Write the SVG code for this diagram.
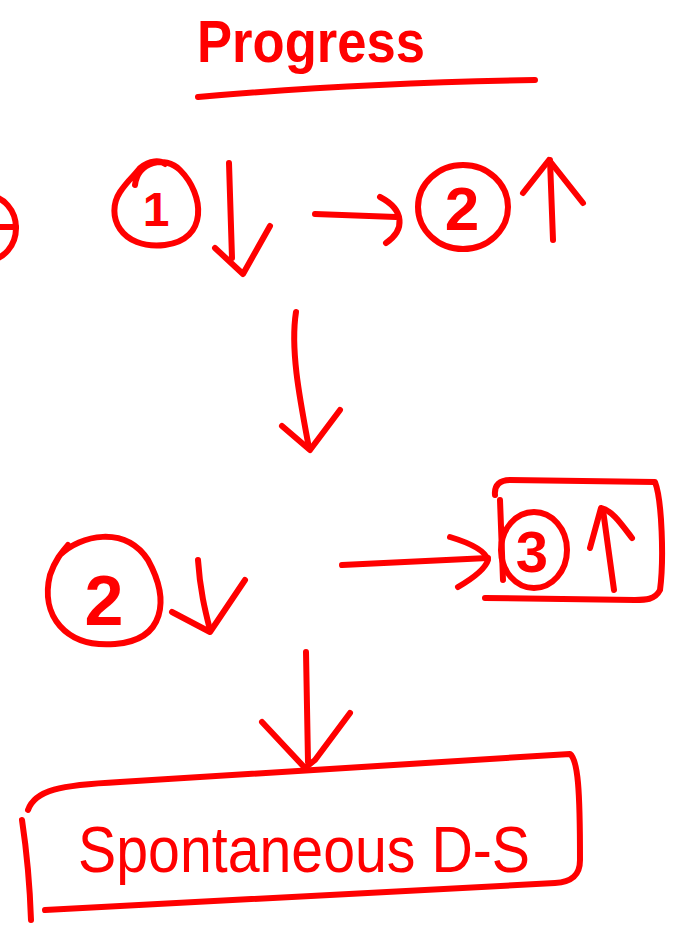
<svg xmlns="http://www.w3.org/2000/svg" width="683" height="925" viewBox="0 0 683 925">
<style>
.s{fill:none;stroke:#ff0000;stroke-width:6;stroke-linecap:round;stroke-linejoin:round}
.t{fill:#ff0000;font-family:"Liberation Sans",Arial,sans-serif}
</style>
<rect width="683" height="925" fill="#ffffff"/>
<g id="title">
<text class="t" x="197" y="62" font-size="60" font-weight="bold" textLength="228" lengthAdjust="spacingAndGlyphs">Progress</text>
<path class="s" d="M198,97 C300,88 420,82 535,80" stroke-width="7"/>
</g>
<g id="edge-partial">
<ellipse class="s" cx="-12" cy="228" rx="28" ry="32"/>
<path class="s" d="M-5,227 L16,227"/>
</g>
<g id="node-1">
<path class="s" d="M135,185 C138,162 165,155 180,170 C205,195 208,240 165,245 C120,250 105,215 120,192 C128,180 135,175 140,168 C150,160 160,160 165,164"/>
<text class="t" x="156" y="226" font-size="48" font-weight="bold" text-anchor="middle">1</text>
</g>
<g id="node-2-top">
<ellipse class="s" cx="463" cy="207" rx="45" ry="42"/>
<text class="t" x="462" y="230" font-size="62" font-weight="bold" text-anchor="middle">2</text>
</g>
<g id="node-2-bottom">
<path class="s" d="M60,555 C80,535 125,525 148,560 C170,600 165,640 115,644 C65,648 40,615 50,575 C55,560 62,552 68,545"/>
<text class="t" x="104" y="625" font-size="70" font-weight="bold" text-anchor="middle">2</text>
</g>
<g id="node-3">
<path class="s" d="M495,495 C494,485 500,480 510,480 L655,482 C662,500 664,560 660,590 C655,600 645,600 635,600 L485,598"/>
<path class="s" d="M500,500 L503,580"/>
<ellipse class="s" cx="534" cy="550" rx="33" ry="38"/>
<text class="t" x="532" y="572" font-size="58" font-weight="bold" text-anchor="middle">3</text>
</g>
<g id="node-spontaneous">
<path class="s" d="M22,820 C28,860 30,890 31,920"/>
<path class="s" d="M28,810 C35,790 60,785 120,782 L570,754 C578,760 580,790 580,860 C580,875 572,882 555,883 L45,910"/>
<text class="t" x="78" y="872" font-size="64" textLength="452" lengthAdjust="spacingAndGlyphs">Spontaneous D-S</text>
</g>
<g id="connectors">
<path class="s" d="M229,163 C230,200 231,230 232,258"/>
<path class="s" d="M215,248 L243,274 L270,226"/>
<path class="s" d="M315,214 L396,217"/>
<path class="s" d="M380,197 C405,210 405,230 386,243"/>
<path class="s" d="M550,160 L553,240"/>
<path class="s" d="M523,193 L549,160 L583,203"/>
<path class="s" d="M296,312 C290,350 300,400 309,448"/>
<path class="s" d="M282,426 L310,450 L340,410"/>
<path class="s" d="M198,560 C200,590 205,610 210,630"/>
<path class="s" d="M172,612 L210,632 L245,580"/>
<path class="s" d="M342,565 C400,562 450,560 488,558"/>
<path class="s" d="M450,537 C470,543 485,550 488,560 C485,570 470,580 458,587"/>
<path class="s" d="M603,510 L614,590"/>
<path class="s" d="M590,548 L601,508 C612,510 622,525 632,538"/>
<path class="s" d="M306,652 L308,762"/>
<path class="s" d="M262,722 L305,768 L315,760 L350,713"/>
</g>
</svg>
